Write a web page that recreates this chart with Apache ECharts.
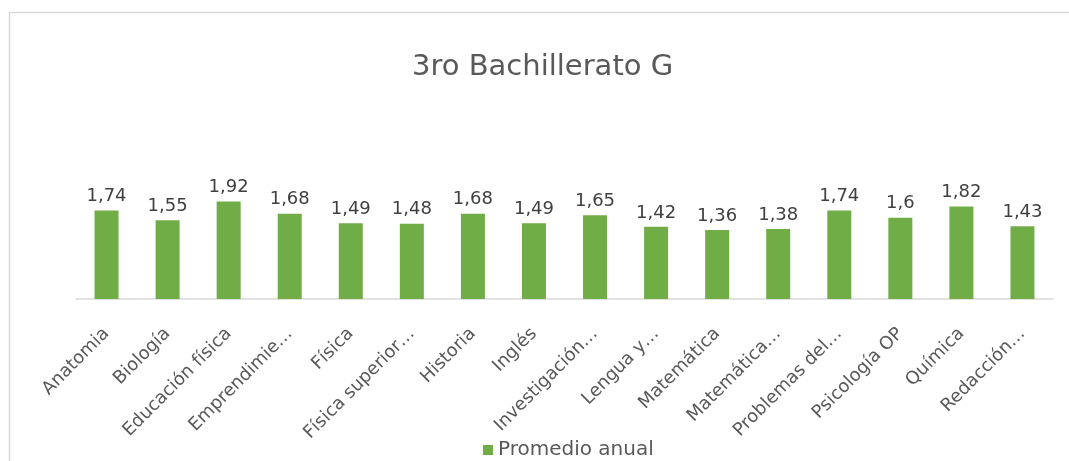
<!DOCTYPE html>
<html>
<head>
<meta charset="utf-8">
<script src="https://cdn.jsdelivr.net/npm/echarts@6/dist/echarts.min.js"></script>
<style>
  html, body { margin: 0; padding: 0; background: #fff; }
  #chart { width: 1069px; height: 461px; }
</style>
</head>
<body>
<div id="chart"></div>
<script>
// materias (etiquetas ya recortadas como en la imagen)
const materias = [
  'Anatomia', 'Biología', 'Educación física', 'Emprendimie…', 'Física',
  'Física superior…', 'Historia', 'Inglés', 'Investigación…', 'Lengua y…',
  'Matemática', 'Matemática…', 'Problemas del…', 'Psicología OP', 'Química', 'Redacción…'
];
const promedioAnual = [1.74, 1.55, 1.92, 1.68, 1.49, 1.48, 1.68, 1.49, 1.65, 1.42, 1.36, 1.38, 1.74, 1.6, 1.82, 1.43];
const tituloGrafico = '3ro Bachillerato G';
const nombreSerie = 'Promedio anual';

const chart = echarts.init(document.getElementById('chart'));
const fuente = '"DejaVu Sans", sans-serif';

chart.setOption({
  backgroundColor: '#fff',
  animation: false,
  title: {
    text: tituloGrafico,
    left: 412,
    top: 53,
    padding: 0,
    textStyle: { fontFamily: fuente, fontSize: 29, fontWeight: 'normal', color: '#595959' }
  },
  legend: {
    data: [nombreSerie],
    left: 483,
    top: 440,
    padding: 0,
    icon: 'rect',
    itemWidth: 10,
    itemHeight: 10,
    itemGap: 11,
    textStyle: { fontFamily: fuente, fontSize: 20, color: '#595959', padding: [0, 0, 0, 0] }
  },
  graphic: [{
    type: 'rect',
    shape: { x: 9.5, y: 12.5, width: 1200, height: 600 },
    style: { fill: 'none', stroke: '#d9d9d9', lineWidth: 1.5 },
    silent: true
  }],
  grid: { left: 76, right: 16, top: 172, bottom: 162 },
  xAxis: {
    type: 'category',
    data: materias,
    axisLine: { lineStyle: { color: '#d9d9d9', width: 1.5 } },
    axisTick: { show: false },
    axisLabel: {
      rotate: 45,
      interval: 0,
      margin: 32,
      fontFamily: fuente,
      fontSize: 18,
      color: '#595959'
    }
  },
  yAxis: {
    type: 'value',
    min: 0,
    max: 2.5,
    show: false
  },
  series: [{
    name: nombreSerie,
    type: 'bar',
    data: promedioAnual,
    barWidth: 24,
    itemStyle: { color: '#70ad47' },
    label: {
      show: true,
      position: 'top',
      distance: 5,
      fontFamily: fuente,
      fontSize: 18,
      color: '#404040',
      formatter: p => String(p.value).replace('.', ',')
    }
  }]
});
</script>
</body>
</html>
